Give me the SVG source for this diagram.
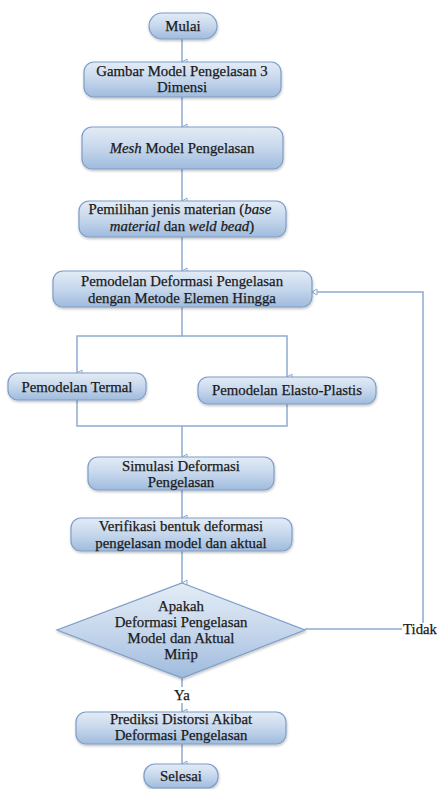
<svg xmlns="http://www.w3.org/2000/svg" width="437" height="789" viewBox="0 0 437 789">
<defs>
<linearGradient id="g" x1="0" y1="0" x2="0" y2="1">
<stop offset="0" stop-color="#e3ecf6"/>
<stop offset="0.5" stop-color="#c6d7ec"/>
<stop offset="1" stop-color="#9fbbdd"/>
</linearGradient>
<filter id="sh" x="-10%" y="-20%" width="120%" height="150%">
<feDropShadow dx="0.5" dy="1.5" stdDeviation="1" flood-color="#000" flood-opacity="0.25"/>
</filter>
<marker id="arr" markerUnits="userSpaceOnUse" markerWidth="8" markerHeight="8" refX="4" refY="7" orient="auto" viewBox="0 0 8 8">
<path d="M1,2 L7,2 L4,7 Z" fill="#fff" stroke="#8eaad0" stroke-width="1"/>
</marker>
<marker id="arrL" markerUnits="userSpaceOnUse" markerWidth="8" markerHeight="8" refX="7" refY="4" orient="auto" viewBox="0 0 8 8">
<path d="M2,1 L2,7 L7,4 Z" fill="#fff" stroke="#8eaad0" stroke-width="1"/>
</marker>
</defs>
<style>
.box{fill:url(#g);stroke:#7e9dc8;stroke-width:1.2;filter:url(#sh)}
text{font-family:'Liberation Serif','DejaVu Serif',serif;font-size:14.8px;fill:#1a1a1a;stroke:#1a1a1a;stroke-width:0.25;text-anchor:middle}
.l{fill:none;stroke:#8eaad0;stroke-width:1.5}
</style>
<rect width="437" height="789" fill="#fff"/>
<g id="connectors">
<line class="l" x1="182" y1="39" x2="182" y2="62" marker-end="url(#arr)"/>
<line class="l" x1="182" y1="97" x2="182" y2="127" marker-end="url(#arr)"/>
<line class="l" x1="182" y1="169" x2="182" y2="201" marker-end="url(#arr)"/>
<line class="l" x1="182" y1="237" x2="182" y2="271" marker-end="url(#arr)"/>
<polyline class="l" points="182,307 182,336 77,336 77,373" marker-end="url(#arr)"/>
<polyline class="l" points="182,336 287,336 287,377" marker-end="url(#arr)"/>
<polyline class="l" points="77,400 77,426 287,426 287,404"/>
<line class="l" x1="182" y1="426" x2="182" y2="457" marker-end="url(#arr)"/>
<line class="l" x1="182" y1="490" x2="182" y2="518" marker-end="url(#arr)"/>
<line class="l" x1="182" y1="551" x2="182" y2="583" marker-end="url(#arr)"/>
<line class="l" x1="182" y1="678" x2="182" y2="687"/>
<line class="l" x1="182" y1="703" x2="182" y2="712" marker-end="url(#arr)"/>
<line class="l" x1="182" y1="744" x2="182" y2="764" marker-end="url(#arr)"/>
<line class="l" x1="305" y1="629" x2="402" y2="629"/>
<polyline class="l" points="423,623 423,292 312,292" marker-end="url(#arrL)"/>
<text x="182" y="700">Ya</text>
<text x="403" y="634" style="text-anchor:start">Tidak</text>
</g>
<g id="mulai">
<rect class="box" x="149" y="13" width="68" height="26" rx="13"/>
<text x="183" y="31">Mulai</text>
</g>
<g id="gambar">
<rect class="box" x="84" y="62" width="197" height="35" rx="10"/>
<text x="182" y="76">Gambar Model Pengelasan 3</text>
<text x="182" y="92">Dimensi</text>
</g>
<g id="mesh">
<rect class="box" x="82" y="127" width="201" height="42" rx="10"/>
<text x="182" y="153"><tspan font-style="italic">Mesh</tspan> Model Pengelasan</text>
</g>
<g id="pemilihan">
<rect class="box" x="79" y="201" width="207" height="36" rx="10"/>
<text x="180" y="214">Pemilihan jenis materian (<tspan font-style="italic">base</tspan></text>
<text x="182" y="231"><tspan font-style="italic">material</tspan> dan <tspan font-style="italic">weld bead</tspan>)</text>
</g>
<g id="pemodelan">
<rect class="box" x="53" y="271" width="259" height="36" rx="10"/>
<text x="182" y="286">Pemodelan Deformasi Pengelasan</text>
<text x="182" y="303">dengan Metode Elemen Hingga</text>
</g>
<g id="termal">
<rect class="box" x="8" y="373" width="138" height="27" rx="10"/>
<text x="77" y="392">Pemodelan Termal</text>
</g>
<g id="elasto">
<rect class="box" x="198" y="377" width="178" height="27" rx="10"/>
<text x="287" y="395">Pemodelan Elasto-Plastis</text>
</g>
<g id="simulasi">
<rect class="box" x="88" y="457" width="186" height="33" rx="10"/>
<text x="181" y="471">Simulasi Deformasi</text>
<text x="181" y="487">Pengelasan</text>
</g>
<g id="verifikasi">
<rect class="box" x="71" y="518" width="221" height="33" rx="10"/>
<text x="181" y="531">Verifikasi bentuk deformasi</text>
<text x="181" y="548">pengelasan model dan aktual</text>
</g>
<g id="keputusan">
<polygon class="box" points="182,583 305,630 182,678 57,630"/>
<text x="181" y="611">Apakah</text>
<text x="181" y="627">Deformasi Pengelasan</text>
<text x="181" y="643">Model dan Aktual</text>
<text x="181" y="659">Mirip</text>
</g>
<g id="prediksi">
<rect class="box" x="76" y="712" width="210" height="32" rx="10"/>
<text x="181" y="724">Prediksi Distorsi Akibat</text>
<text x="181" y="740">Deformasi Pengelasan</text>
</g>
<g id="selesai">
<rect class="box" x="144" y="764" width="74" height="24" rx="11"/>
<text x="181" y="781">Selesai</text>
</g>
</svg>
